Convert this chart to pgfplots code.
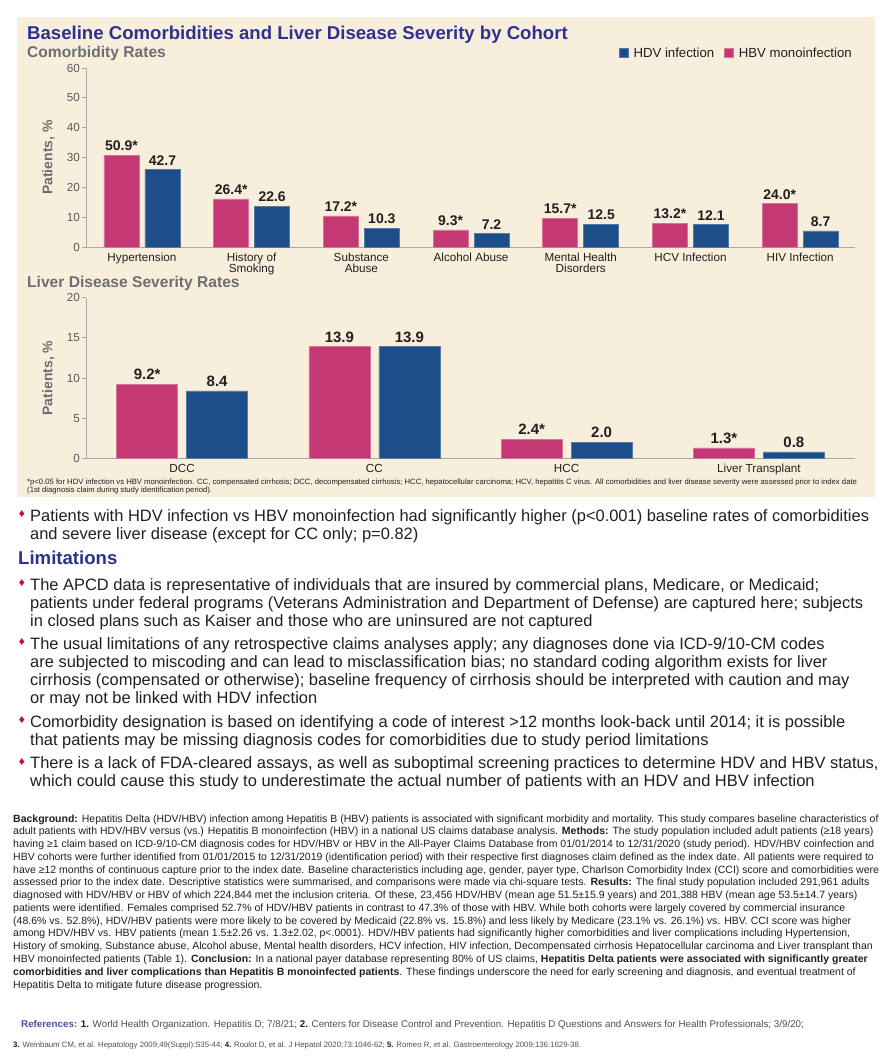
\documentclass[border=0pt]{standalone}
\usepackage{fontspec}
\setmainfont{Liberation Sans}
\newfontfamily\dejavu{DejaVu Sans}
\usepackage{pgfplots}
\usepackage{pgfplotstable}
\pgfplotsset{compat=1.18}
\definecolor{bg}{RGB}{248,238,220}
\definecolor{hbv}{RGB}{196,57,115}
\definecolor{hdv}{RGB}{29,78,137}
\definecolor{titleblue}{RGB}{46,49,146}
\definecolor{sectgrey}{RGB}{109,110,113}
\definecolor{axgrey}{RGB}{167,169,172}
\definecolor{tickgrey}{RGB}{88,89,91}
\definecolor{txt}{RGB}{35,31,32}
\definecolor{bulletred}{RGB}{200,16,46}
\definecolor{refblue}{RGB}{75,79,168}
\definecolor{refgrey}{RGB}{80,80,82}

% drawn bar heights (axis units) and printed labels
\pgfplotstableread{
x hbv hbvlab hdv hdvlab
0 30.8 50.9* 25.9 42.7
1 16.1 26.4* 13.7 22.6
2 10.4 17.2* 6.3 10.3
3 5.7 9.3* 4.5 7.2
4 9.6 15.7* 7.6 12.5
5 8.0 13.2* 7.5 12.1
6 14.6 24.0* 5.4 8.7
}\comorb

\pgfplotstableread{
x hbv hbvlab hdv hdvlab
0 9.2 9.2* 8.4 8.4
1 13.9 13.9 13.9 13.9
2 2.4 2.4* 2.0 2.0
3 1.3 1.3* 0.8 0.8
}\liver

\pgfplotsset{
 sqleg/.style={legend image code/.code={\fill[##1] (0pt,-4.5pt) rectangle (9pt,4.5pt);}},
 chartbase/.style={
  scale only axis,
  axis x line*=bottom, axis y line*=left,
  axis line style={axgrey, line width=0.8pt},
  ymin=0,
  xtick=data,
  x tick style={draw=none},
  y tick style={axgrey, line width=0.8pt},
  tick align=outside,
  major tick length=4pt,
  yticklabel style={font=\fontsize{11.7}{12}\selectfont, text=tickgrey, inner xsep=2pt},
  xticklabel style={font=\fontsize{11.7}{11}\selectfont, text=txt, align=center, inner ysep=2pt},
  /pgf/number format/assume math mode=true,
  nodes near coords,
  point meta=explicit symbolic,
  every node near coord/.append style={font=\bfseries\fontsize{14}{14}\selectfont, text=txt, anchor=south, inner sep=0pt, yshift=4pt},
  ybar,
  clip=false,
 }
}

\newcommand{\tline}[3]{\node[anchor=base west, inner sep=0pt, font=\fontsize{16.45}{18}\selectfont, text=txt] at (#1pt,-#2pt) {#3};}
\newcommand{\bul}[1]{\node[anchor=base west, inner sep=0pt, font=\dejavu\fontsize{9.5}{10}\selectfont, text=bulletred] at (17.5pt,-#1pt) {♦};}
\newcommand{\bline}[2]{\node[anchor=base west, inner sep=0pt, font=\fontsize{10.5}{12}\selectfont, text=txt] at (13pt,-#1pt) {#2};}

\begin{document}
\begin{tikzpicture}
\path[use as bounding box, fill=white] (0pt,0pt) rectangle (894pt,-1063pt);
\fill[bg] (17pt,-17pt) rectangle (875pt,-497pt);

\node[anchor=base west, inner sep=0pt, font=\bfseries\fontsize{18.6}{20}\selectfont, text=titleblue] at (27pt,-39.5pt) {Baseline Comorbidities and Liver Disease Severity by Cohort};
\node[anchor=base west, inner sep=0pt, font=\bfseries\fontsize{15.6}{16}\selectfont, text=sectgrey] at (27pt,-57.7pt) {Comorbidity Rates};
\node[anchor=base west, inner sep=0pt, font=\bfseries\fontsize{15.6}{16}\selectfont, text=sectgrey] at (27pt,-287pt) {Liver Disease Severity Rates};

\node[rotate=90, inner sep=0pt, font=\bfseries\fontsize{14}{14}\selectfont, text=sectgrey] at (48.5pt,-157.5pt) {Patients, \%};
\node[rotate=90, inner sep=0pt, font=\bfseries\fontsize{14}{14}\selectfont, text=sectgrey] at (48.5pt,-378pt) {Patients, \%};

\begin{axis}[chartbase,
  at={(86pt,-247pt)}, anchor=south west,
  width=769pt, height=179pt,
  xmin=-0.51, xmax=6.5, ymax=60,
  ytick={0,10,...,60},
  bar width=35pt,
  xticklabels={Hypertension, {History of\\Smoking}, {Substance\\Abuse}, Alcohol Abuse, {Mental Health\\Disorders}, HCV Infection, HIV Infection},
  legend columns=2,
  legend style={at={(rel axis cs:1,1)}, anchor=east, xshift=-3pt, yshift=15pt, draw=none, fill=none, inner sep=0pt,
    font=\fontsize{13.2}{13.2}\selectfont,
    nodes={inner sep=0pt, text=txt},
    /tikz/every odd column/.append style={column sep=5pt},
    /tikz/every even column/.append style={column sep=10pt}},
]
\addplot[fill=hdv, draw=hdv!75!white, line width=0.6pt, bar shift=20.5pt, sqleg]
  table[x=x, y=hdv, meta=hdvlab]{\comorb};
\addplot[fill=hbv, draw=hbv!70!white, line width=0.6pt, bar shift=-20.5pt, sqleg]
  table[x=x, y=hbv, meta=hbvlab]{\comorb};
\legend{HDV infection, HBV monoinfection}
\end{axis}

\begin{axis}[chartbase,
  at={(86pt,-458.3pt)}, anchor=south west,
  width=769pt, height=160.6pt,
  xmin=-0.5, xmax=3.5, ymax=20,
  ytick={0,5,...,20},
  bar width=61pt,
  xticklabels={DCC, CC, HCC, Liver Transplant},
  every node near coord/.append style={font=\bfseries\fontsize{15}{15}\selectfont},
]
\addplot[fill=hdv, draw=hdv!75!white, line width=0.6pt, bar shift=35pt]
  table[x=x, y=hdv, meta=hdvlab]{\liver};
\addplot[fill=hbv, draw=hbv!70!white, line width=0.6pt, bar shift=-35pt]
  table[x=x, y=hbv, meta=hbvlab]{\liver};
\end{axis}

\node[anchor=base west, inner sep=0pt, font=\fontsize{7.7}{9}\selectfont, text=txt] at (27pt,-484.5pt) {*p<0.05 for HDV infection vs HBV monoinfection. CC, compensated cirrhosis; DCC, decompensated cirrhosis; HCC, hepatocellular carcinoma; HCV, hepatitis C virus. All comorbidities and liver disease severity were assessed prior to index date};
\node[anchor=base west, inner sep=0pt, font=\fontsize{7.7}{9}\selectfont, text=txt] at (27pt,-492.8pt) {(1st diagnosis claim during study identification period).};

% bullets
\bul{517.5}
\tline{30}{521}{Patients with HDV infection vs HBV monoinfection had significantly higher (p<0.001) baseline rates of comorbidities}
\tline{30}{539}{and severe liver disease (except for CC only; p=0.82)}

\node[anchor=base west, inner sep=0pt, font=\bfseries\fontsize{18.6}{20}\selectfont, text=titleblue] at (18pt,-564.5pt) {Limitations};

\bul{586.5}
\tline{30}{590}{The APCD data is representative of individuals that are insured by commercial plans, Medicare, or Medicaid;}
\tline{30}{608}{patients under federal programs (Veterans Administration and Department of Defense) are captured here; subjects}
\tline{30}{626}{in closed plans such as Kaiser and those who are uninsured are not captured}

\bul{645.8}
\tline{30}{649.3}{The usual limitations of any retrospective claims analyses apply; any diagnoses done via ICD-9/10-CM codes}
\tline{30}{667.3}{are subjected to miscoding and can lead to misclassification bias; no standard coding algorithm exists for liver}
\tline{30}{685.3}{cirrhosis (compensated or otherwise); baseline frequency of cirrhosis should be interpreted with caution and may}
\tline{30}{703.3}{or may not be linked with HDV infection}

\bul{723.5}
\tline{30}{727}{Comorbidity designation is based on identifying a code of interest >12 months look-back until 2014; it is possible}
\tline{30}{745}{that patients may be missing diagnosis codes for comorbidities due to study period limitations}

\bul{765.2}
\tline{30}{768.7}{There is a lack of FDA-cleared assays, as well as suboptimal screening practices to determine HDV and HBV status,}
\tline{30}{786.7}{which could cause this study to underestimate the actual number of patients with an HDV and HBV infection}

% background paragraph
\bline{822.0}{\textbf{Background:} Hepatitis Delta (HDV/HBV) infection among Hepatitis B (HBV) patients is associated with significant morbidity and mortality. This study compares baseline characteristics of}
\bline{834.8}{adult patients with HDV/HBV versus (vs.) Hepatitis B monoinfection (HBV) in a national US claims database analysis. \textbf{Methods:} The study population included adult patients (≥18 years)}
\bline{847.5}{having ≥1 claim based on ICD-9/10-CM diagnosis codes for HDV/HBV or HBV in the All-Payer Claims Database from 01/01/2014 to 12/31/2020 (study period). HDV/HBV coinfection and}
\bline{860.3}{HBV cohorts were further identified from 01/01/2015 to 12/31/2019 (identification period) with their respective first diagnoses claim defined as the index date. All patients were required to}
\bline{873.1}{have ≥12 months of continuous capture prior to the index date. Baseline characteristics including age, gender, payer type, Charlson Comorbidity Index (CCI) score and comorbidities were}
\bline{885.9}{assessed prior to the index date. Descriptive statistics were summarised, and comparisons were made via chi-square tests. \textbf{Results:} The final study population included 291,961 adults}
\bline{898.6}{diagnosed with HDV/HBV or HBV of which 224,844 met the inclusion criteria. Of these, 23,456 HDV/HBV (mean age 51.5±15.9 years) and 201,388 HBV (mean age 53.5±14.7 years)}
\bline{911.4}{patients were identified. Females comprised 52.7\% of HDV/HBV patients in contrast to 47.3\% of those with HBV. While both cohorts were largely covered by commercial insurance}
\bline{924.2}{(48.6\% vs. 52.8\%), HDV/HBV patients were more likely to be covered by Medicaid (22.8\% vs. 15.8\%) and less likely by Medicare (23.1\% vs. 26.1\%) vs. HBV. CCI score was higher}
\bline{936.9}{among HDV/HBV vs. HBV patients (mean 1.5±2.26 vs. 1.3±2.02, p<.0001). HDV/HBV patients had significantly higher comorbidities and liver complications including Hypertension,}
\bline{949.7}{History of smoking, Substance abuse, Alcohol abuse, Mental health disorders, HCV infection, HIV infection, Decompensated cirrhosis Hepatocellular carcinoma and Liver transplant than}
\bline{962.5}{HBV monoinfected patients (Table 1). \textbf{Conclusion:} In a national payer database representing 80\% of US claims, \textbf{Hepatitis Delta patients were associated with significantly greater}}
\bline{975.2}{\textbf{comorbidities and liver complications than Hepatitis B monoinfected patients}. These findings underscore the need for early screening and diagnosis, and eventual treatment of}
\bline{988.0}{Hepatitis Delta to mitigate future disease progression.}

% references
\node[anchor=base west, inner sep=0pt, font=\fontsize{9.8}{10}\selectfont, text=refgrey] at (21pt,-1027pt) {\textcolor{refblue}{\textbf{References:}} \textbf{\textcolor{txt}{1.}} World Health Organization. Hepatitis D; 7/8/21; \textbf{\textcolor{txt}{2.}} Centers for Disease Control and Prevention. Hepatitis D Questions and Answers for Health Professionals; 3/9/20;};
\node[anchor=base west, inner sep=0pt, font=\fontsize{7.8}{8}\selectfont, text=refgrey] at (13pt,-1047pt) {\textbf{\textcolor{txt}{3.}} Weinbaum CM, et al. Hepatology 2009;49(Suppl):S35-44; \textbf{\textcolor{txt}{4.}} Roulot D, et al. J Hepatol 2020;73:1046-62; \textbf{\textcolor{txt}{5.}} Romeo R, et al. Gastroenterology 2009;136:1629-38.};
\end{tikzpicture}
\end{document}
